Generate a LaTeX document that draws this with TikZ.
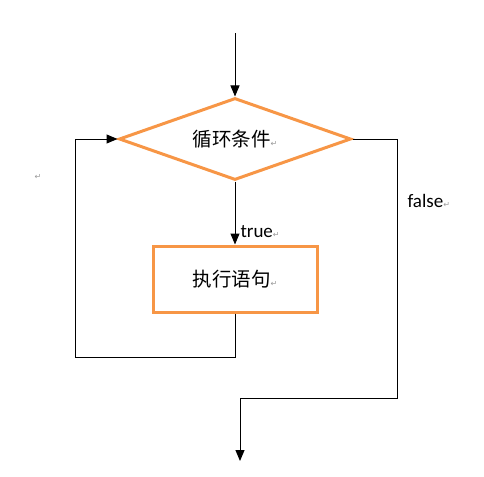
\documentclass[tikz,border=0pt]{standalone}
\usepackage{fontspec}
\setmainfont{Carlito}
\newfontfamily\cjk{Noto Sans CJK SC}
\newfontfamily\symfont{DejaVu Sans}
\usepackage{tikz}
\usetikzlibrary{shapes.geometric,positioning,arrows.meta}

\definecolor{floworange}{HTML}{F79646}
\newcommand{\ret}{{\symfont\fontsize{8}{9}\selectfont\color{black!40}↵}}

\begin{document}
\begin{tikzpicture}[x=1pt,y=1pt,>={Triangle[length=11pt,width=9pt]},line width=1pt,font=\fontsize{19}{22}\selectfont]
  \tikzstyle{cond}=[diamond,draw=floworange,line width=3pt,minimum width=232pt,minimum height=82pt,inner sep=0pt]
  \tikzstyle{stmt}=[rectangle,draw=floworange,line width=3pt,minimum width=164pt,minimum height=66pt,font=\cjk\fontsize{19.5}{22}\selectfont]
  \tikzstyle{cjktext}=[font=\cjk\fontsize{19.5}{22}\selectfont]
  \useasboundingbox (0,0) rectangle (484,-476);

  % Blocks
  \node[cond] (cond) at (235,-139) {};
  \node[cjktext] (condtext) at (cond) {循环条件\ret};
  \node[stmt] (body) [below=63pt of cond] {执行语句\ret};
  \coordinate[above=63pt of cond.north] (start);
  \coordinate (loopl) at (75,-357);
  \coordinate (exitr) at (397,-398);
  \coordinate (stop) at (240,-461);
  \node (mark) at (38,-177) {\ret};

  % Flow
  \draw[->] (start) -- (cond.north);
  \path[->]
    (cond) edge node[pos=0.79,right,inner sep=5pt]{true\ret} (body);
  \draw[->] (body.south) |- (loopl) |- (cond.west);
  \draw[->] (cond.east) -| node[pos=0.62,right,inner sep=10pt]{false\ret} (exitr) -| (stop);
\end{tikzpicture}
\end{document}
